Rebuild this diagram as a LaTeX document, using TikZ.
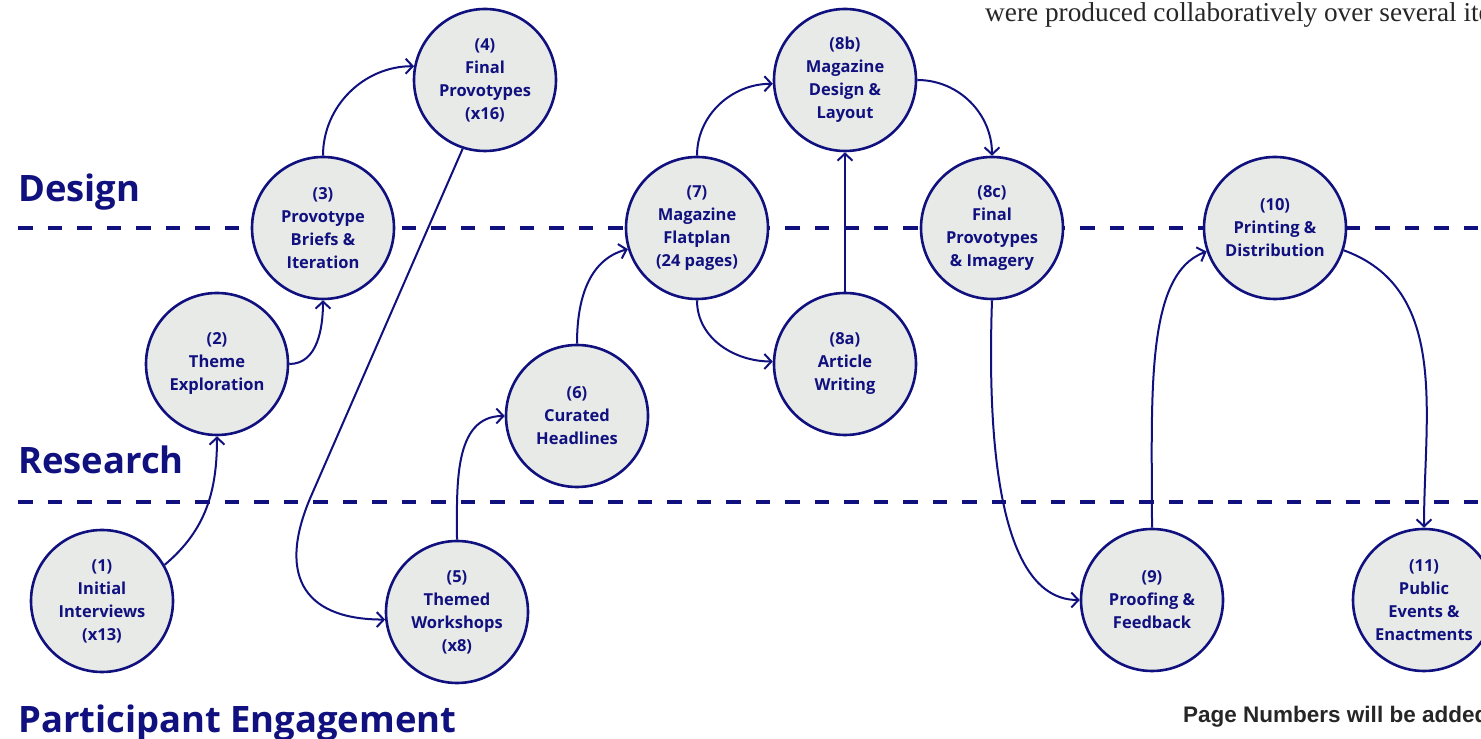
\documentclass[tikz,border=0pt]{standalone}
\usepackage{fontspec}
\setmainfont{Open Sans}
\newfontfamily\notefont{Liberation Serif}
\newfontfamily\pagefont{Liberation Sans}
\usetikzlibrary{arrows.meta}
\definecolor{navy}{HTML}{10107F}
\definecolor{stagefill}{HTML}{E7EAE6}
\definecolor{inkgray}{HTML}{262626}

\begin{document}
\begin{tikzpicture}[x=1pt, y=1pt, >={Straight Barb[length=7pt,width=15pt]},
    stage/.style={circle, draw=navy, fill=stagefill, line width=2.6pt, minimum size=142pt,
        inner sep=0pt, align=center, text=navy, font=\bfseries\fontsize{16.5}{23}\selectfont},
    flow/.style={->, draw=navy, line width=2pt},
    lane/.style={draw=navy, line width=3.2pt, dash pattern=on 14.5pt off 15pt},
    lanelabel/.style={anchor=base west, inner sep=0pt, text=navy, font=\bfseries\fontsize{36.4}{44}\selectfont}]

    \useasboundingbox (0,0) rectangle (1481,739);
    \clip (0,0) rectangle (1481,739);

    % lanes
    \draw[lane] (18,511) -- (1481,511);
    \draw[lane] (18,237) -- (1481,237);
    \node[lanelabel] (design) at (18,537) {Design};
    \node[lanelabel] (research) at (18,265) {Research};
    \node[lanelabel] (engage) at (18,6) {Participant Engagement};

    % stages
    \node[stage] (s1) at (102,138) {(1)\\Initial\\Interviews\\(x13)};
    \node[stage] (s2) at (217,375) {(2)\\Theme\\Exploration};
    \node[stage] (s3) at (323,511) {(3)\\Provotype\\Briefs \&\\Iteration};
    \node[stage] (s4) at (485,659) {(4)\\Final\\Provotypes\\(x16)};
    \node[stage] (s5) at (457,127) {(5)\\Themed\\Workshops\\(x8)};
    \node[stage] (s6) at (577,323) {(6)\\Curated\\Headlines};
    \node[stage] (s7) at (697,511) {(7)\\Magazine\\Flatplan\\(24 pages)};
    \node[stage] (s8b) at (845,659) {(8b)\\Magazine\\Design \&\\Layout};
    \node[stage] (s8a) at (845,375) {(8a)\\Article\\Writing};
    \node[stage] (s8c) at (992,511) {(8c)\\Final\\Provotypes\\\& Imagery};
    \node[stage] (s9) at (1152,139) {(9)\\Proofing \&\\Feedback};
    \node[stage] (s10) at (1275,511) {(10)\\Printing \&\\Distribution};
    \node[stage] (s11) at (1424,139) {(11)\\Public\\Events \&\\Enactments};

    % flow
    \coordinate (k45) at (312,245);
    \draw[flow] (s1.30) to[out=40, in=-90] (s2.south);
    \draw[flow] (s2.east) to[out=0, in=-90] (s3.south);
    \draw[flow] (s3.north) to[out=90, in=180] (s4.169);
    \draw[flow] (s4.-108) -- (k45) to[out=-114, in=180, looseness=1.5] (s5.186);
    \draw[flow] (s5.north) to[out=90, in=180] (s6.west);
    \draw[flow] (s6.north) to[out=90, in=195] (s7.197);
    \draw[flow] (s7.north) to[out=90, in=180] (s8b.183);
    \draw[flow] (s7.south) to[out=-90, in=180] (s8a.178);
    \draw[flow] (s8a.north) -- (s8b.south);
    \draw[flow] (s8b.east) to[out=0, in=90] (s8c.north);
    \draw[flow] (s8c.south) to[out=-92, in=180, out looseness=1.4, in looseness=0.6] (s9.west);
    \draw[flow] (s9.north) to[out=90, in=200, out looseness=1.2, in looseness=0.6] (s10.199);
    \draw[flow] (s10.-18) to[out=-20, in=90] (s11.north);

    % page notes
    \node[anchor=base west, inner sep=0pt, text=inkgray, font=\notefont\fontsize{27.3}{32}\selectfont]
        (note) at (985,717) {were produced collaboratively over several ite};
    \node[anchor=base west, inner sep=0pt, text=inkgray, font=\pagefont\bfseries\fontsize{22.5}{26}\selectfont]
        (pagenote) at (1183,16) {Page Numbers will be added};
\end{tikzpicture}
\end{document}
